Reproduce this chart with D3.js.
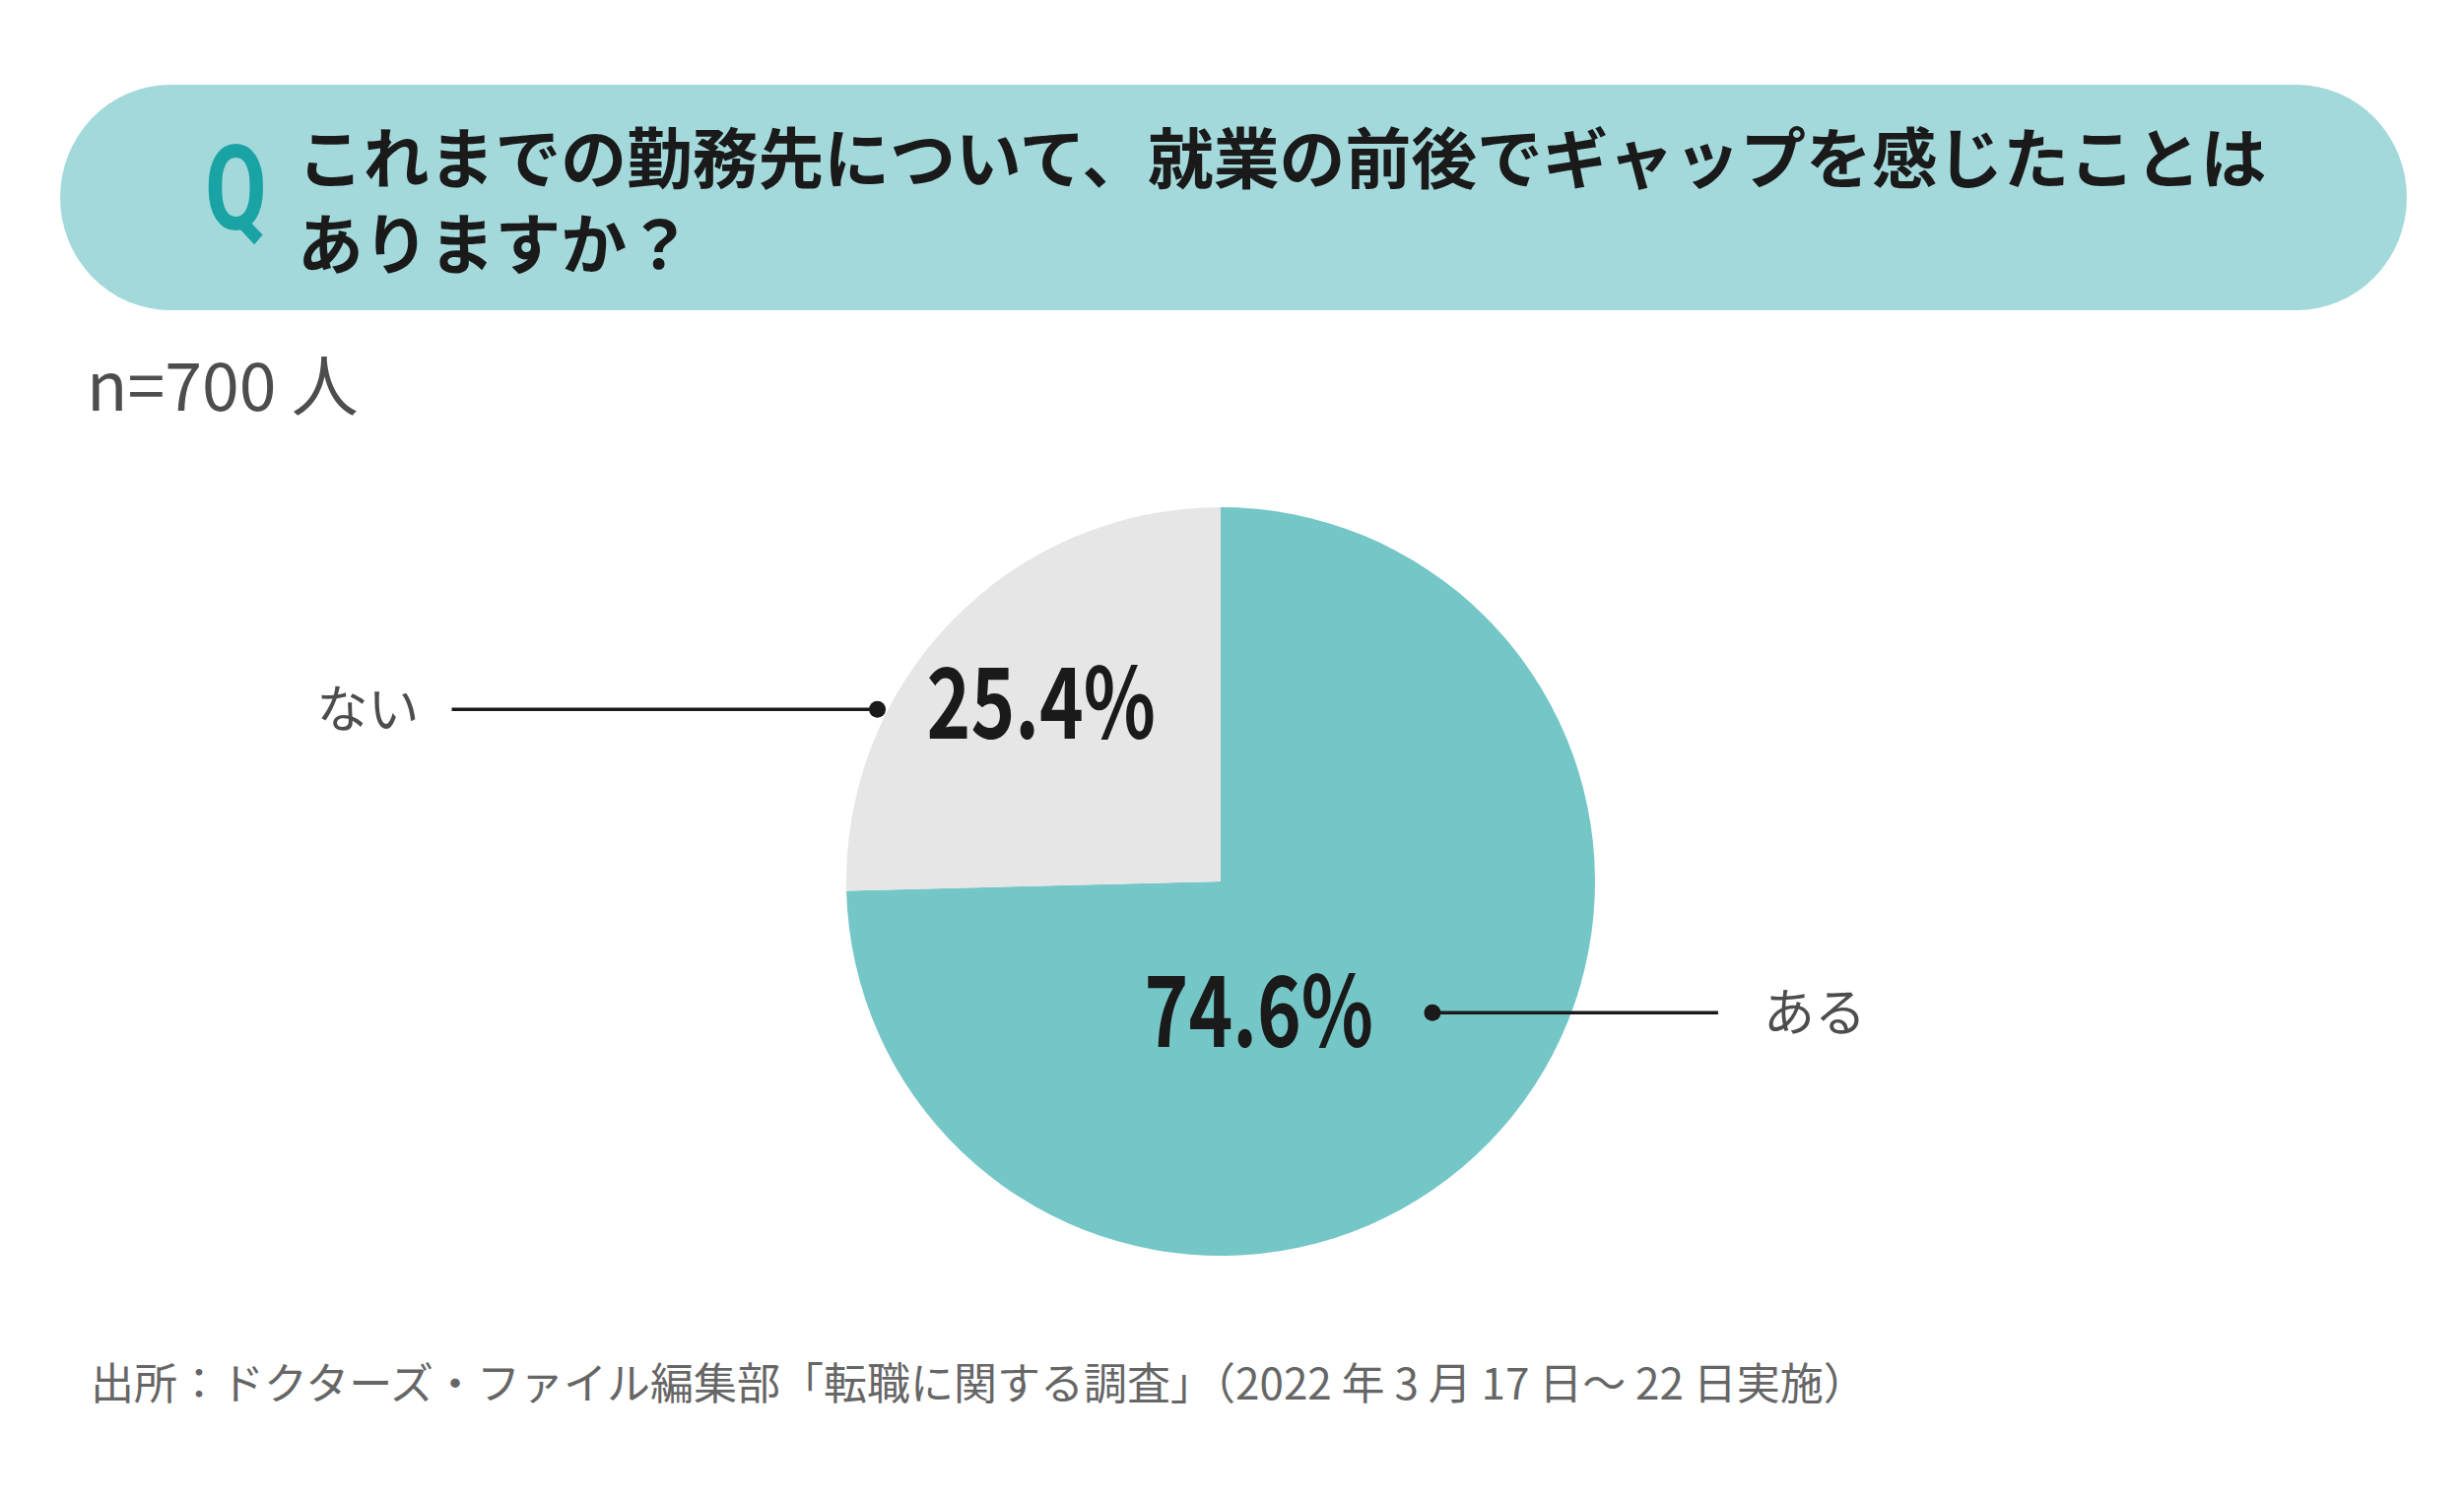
<!DOCTYPE html>
<html>
<head>
<meta charset="utf-8">
<script src="https://cdn.jsdelivr.net/npm/d3@7"></script>
<style>
  body { margin: 0; background: #fff; }
  svg { display: block; }
</style>
</head>
<body>
<div id="chart"></div>
<script>
// data
const categories = ["ある", "ない"];
const values = [74.6, 25.4];
const titleLines = ["これまでの勤務先について、就業の前後でギャップを感じたことは", "ありますか？"];
const sampleLabel = "n=700 人";
const sourceNote = "出所：ドクターズ・ファイル編集部「転職に関する調査」（2022 年 3 月 17 日～ 22 日実施）";

const width = 2501, height = 1522;
const jp = "'Noto Sans CJK JP', 'Noto Sans', sans-serif";

const svg = d3.select("#chart")
  .append("svg")
  .attr("width", width)
  .attr("height", height)
  .attr("viewBox", `0 0 ${width} ${height}`);

// question banner
const banner = { x: 61, y: 86, w: 2382, h: 229 };
svg.append("rect")
  .attr("x", banner.x).attr("y", banner.y)
  .attr("width", banner.w).attr("height", banner.h)
  .attr("rx", 112).attr("ry", 114.5)
  .attr("fill", "#a4d9db");

svg.append("text")
  .attr("transform", "translate(208,233) scale(0.76,1)")
  .attr("font-family", "Roboto, 'Noto Sans', sans-serif")
  .attr("font-weight", 700)
  .attr("font-size", 120)
  .attr("fill", "#1aa3a5")
  .text("Q");

svg.selectAll(".title")
  .data(titleLines)
  .enter()
  .append("text")
  .attr("class", "title")
  .attr("x", 302)
  .attr("y", (d, i) => 157 + i * 87)
  .attr("dominant-baseline", "central")
  .attr("font-family", jp)
  .attr("font-weight", 700)
  .attr("font-size", 66.8)
  .attr("fill", "#1a1a1a")
  .text((d) => d);

svg.append("text")
  .attr("x", 88).attr("y", 417)
  .attr("font-family", jp)
  .attr("font-size", 68)
  .attr("fill", "#4d4d4d")
  .text(sampleLabel);

// pie
const cx = 1239, cy = 895, r = 380;
const color = d3.scaleOrdinal().domain(categories).range(["#74c6c7", "#e6e6e6"]);

const pie = d3.pie().sort(null).value((d) => d.value);
const arcs = pie(categories.map((c, i) => ({ name: c, value: values[i] })));
const arc = d3.arc().innerRadius(0).outerRadius(r);

const g = svg.append("g").attr("transform", `translate(${cx},${cy})`);
g.selectAll("path")
  .data(arcs)
  .enter()
  .append("path")
  .attr("d", arc)
  .attr("fill", (d) => color(d.data.name));

// label anchors: ない sits on the arc centroid, ある is nudged towards the lower middle
const labelArc = d3.arc().innerRadius(r * 0.67).outerRadius(r * 0.67);
const labelPos = (d) => {
  if (d.data.name === "ない") return labelArc.centroid(d);
  const a = (164 * Math.PI) / 180, rr = r * 0.37;
  return [Math.sin(a) * rr, -Math.cos(a) * rr];
};
const callout = {
  "ない": { side: -1, gap: 50, len: 432, textGap: 33 },
  "ある": { side: 1, gap: 60, len: 290, textGap: 46 },
};
const squeeze = 0.76;

arcs.forEach((d) => {
  const [lx, ly] = labelPos(d);
  const pct = g.append("text")
    .attr("transform", `translate(${lx},${ly + 33}) scale(${squeeze},1)`)
    .attr("text-anchor", "middle")
    .attr("font-family", jp)
    .attr("font-weight", 700)
    .attr("font-size", 100)
    .attr("fill", "#1a1a1a")
    .text(d3.format(".1f")(d.data.value) + "%");

  const half = (pct.node().getComputedTextLength() * squeeze) / 2;
  const c = callout[d.data.name];
  const dotX = lx + c.side * (half + c.gap);
  const endX = dotX + c.side * c.len;
  const dotY = ly + (c.side < 0 ? 3 : -2);

  g.append("line")
    .attr("x1", dotX).attr("y1", dotY)
    .attr("x2", endX).attr("y2", dotY)
    .attr("stroke", "#1a1a1a")
    .attr("stroke-width", 3.5);
  g.append("circle")
    .attr("cx", dotX).attr("cy", dotY)
    .attr("r", 8.5)
    .attr("fill", "#1a1a1a");

  g.append("text")
    .attr("x", endX + c.side * c.textGap)
    .attr("y", dotY - 4)
    .attr("dominant-baseline", "central")
    .attr("text-anchor", c.side < 0 ? "end" : "start")
    .attr("font-family", jp)
    .attr("font-size", 52)
    .attr("fill", "#4d4d4d")
    .text(d.data.name);
});

// source
svg.append("text")
  .attr("x", 92).attr("y", 1402)
  .attr("dominant-baseline", "central")
  .attr("font-family", jp)
  .attr("font-size", 44)
  .attr("fill", "#666666")
  .text(sourceNote);
</script>
</body>
</html>
